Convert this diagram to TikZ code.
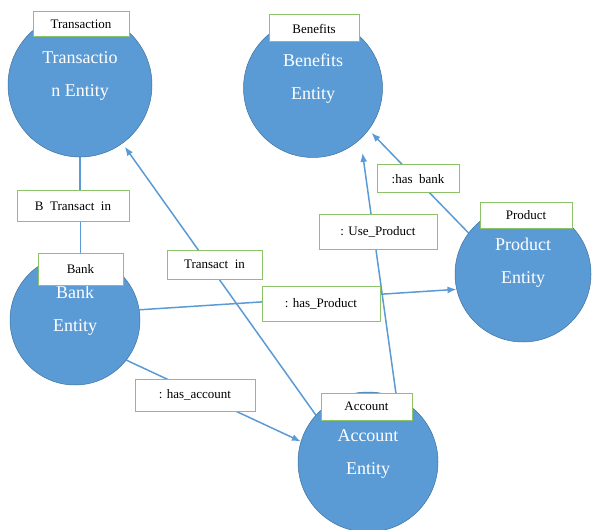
\documentclass[tikz,border=0pt]{standalone}
\usepackage{fontspec}
\setmainfont{Liberation Serif}
\usetikzlibrary{arrows.meta,backgrounds}
\definecolor{entityblue}{RGB}{91,155,213}
\definecolor{ringblue}{RGB}{65,113,156}
\definecolor{boxgreen}{RGB}{140,195,105}

\begin{document}
\begin{tikzpicture}[
  x=1pt, y=-1pt,
  entity/.style={circle, fill=entityblue, draw=ringblue, line width=0.5pt, inner sep=0pt},
  etext/.style={text=white, align=center, font=\fontsize{18}{33}\selectfont},
  head/.style={rectangle, draw=boxgreen, fill=white, line width=1pt, inner sep=0pt, font=\fontsize{13}{15}\selectfont},
  arr/.style={-{Latex[length=9pt,width=7pt]}, draw=entityblue, line width=1.5pt},
  link/.style={draw=entityblue, line width=1.5pt}
]
\useasboundingbox (0,0) rectangle (593,529);

% entities
\node[entity, minimum size=144pt] (trans) at (80,85) {};
\node[entity, minimum size=139pt] (ben) at (313,88) {};
\node[entity, minimum size=130pt] (bank) at (75,320) {};
\node[entity, minimum size=136pt] (prod) at (523,274) {};
\node[entity, minimum size=140pt] (acct) at (368,462) {};

\node[etext] (transtxt) at ([yshift=9pt]trans.center) {Transactio\\n Entity};
\node[etext] (bentxt) at ([yshift=9pt]ben.center) {Benefits\\Entity};
\node[etext] (banktxt) at ([yshift=9pt]bank.center) {Bank\\Entity};
\node[etext] (prodtxt) at ([yshift=11pt]prod.center) {Product\\Entity};
\node[etext] (accttxt) at ([yshift=8pt]acct.center) {Account\\Entity};

% entity headers
\node[head, minimum width=96pt, minimum height=25pt] (translbl) at (81,24.5) {Transaction};
\node[head, minimum width=90pt, minimum height=27pt] (benlbl) at (314,28.5) {Benefits};
\node[head, minimum width=85pt, minimum height=32pt] (banklbl) at (80.5,269) {Bank};
\node[head, minimum width=92pt, minimum height=26pt] (prodlbl) at (526,215) {Product};
\node[head, minimum width=91pt, minimum height=27pt] (acctlbl) at (366.5,406.5) {Account};

% relations
\node[head, minimum width=112pt, minimum height=30pt] (btrans) at (73,206) {B~~Transact~~in};
\node[head, minimum width=95pt, minimum height=29pt] (transin) at (214.5,264.5) {Transact~~in};
\node[head, minimum width=118pt, minimum height=35pt] (hasprod) at (321,303.5) {: has\_Product};
\node[head, minimum width=120pt, minimum height=32pt] (hasacct) at (195,395) {: has\_account};
\node[head, minimum width=118pt, minimum height=35pt] (useprod) at (378,231.5) {: Use\_Product};
\node[head, minimum width=82pt, minimum height=28pt] (hasbank) at (418,179) {:has~~bank};

\begin{scope}[on background layer]
\draw[link] (trans.south) -- (trans.south |- btrans.north);
\draw[link] (banklbl.north) -- (banklbl.north |- btrans.south);
\draw[arr, shorten >=4pt] (acct.138) -- (trans.-54);
\draw[arr] (bank.9) -- (prod.193);
\draw[arr] (bank.-38) -- (acct.163);
\draw[arr, shorten >=14pt] (acct.66) -- (ben.-47);
\draw[arr, shorten >=4pt] (prod.143) -- (ben.-37);
\end{scope}
\end{tikzpicture}
\end{document}
